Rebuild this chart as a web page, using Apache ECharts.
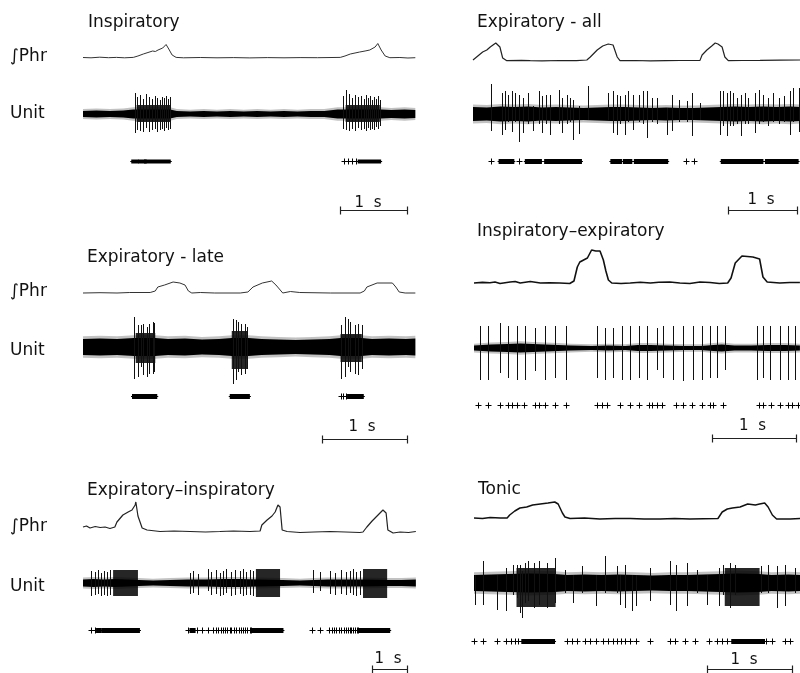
<!DOCTYPE html>
<html>
<head>
<meta charset="utf-8">
<script src="https://cdn.jsdelivr.net/npm/echarts@6/dist/echarts.min.js"></script>
<style>
  html, body { margin: 0; padding: 0; background: #fff; }
  #chart { width: 800px; height: 673px; }
</style>
</head>
<body>
<div id="chart"></div>
<script>
// ---- Recordings: time in s, ∫Phr in a.u., unit amplitude in µV-like units ----
// Each panel: phrenic integral [t, v], noise half-width [t, h],
// single spikes [t, up, down], dense firing [t0, t1, up, down], raster [t] or [t0, t1].

const scaleBarSeconds = 1;

// Inspiratory
const inspPhr = [[0,0.5],[0.12,0.2],[0.25,0.8],[0.38,0.3],[0.5,0.6],[0.62,0.2],[0.75,0.6],[0.82,2],[0.90,4],[0.97,5.5],[1.04,7],[1.08,6.5],[1.12,8],[1.19,10],[1.24,13.5],[1.28,9],[1.33,3],[1.39,0.6],[1.5,0.2],[1.75,0.5],[2.0,0.2],[2.25,0.4],[2.49,0.1],[2.75,0.4],[3.0,0.2],[3.24,0.4],[3.5,0.3],[3.84,0.6],[3.91,2],[3.99,4],[4.06,5],[4.13,6],[4.21,7],[4.28,8],[4.36,11],[4.40,14.5],[4.45,8],[4.51,2],[4.58,0.3],[4.73,0.5],[4.85,0],[4.96,0.3]];
const inspBand = [[0,3],[0.2,3.5],[0.4,3],[0.6,3.5],[0.75,4.5],[1.3,4.5],[1.4,3],[1.6,2.5],[1.8,3],[2.0,2.5],[2.2,3],[2.4,2.5],[2.6,3],[2.8,2.5],[3.0,3],[3.2,2.5],[3.4,3],[3.6,3],[3.8,4.5],[4.45,4.5],[4.6,4],[4.8,4.5],[4.96,4]];
const inspSpikes = [[0.78,21,19],[0.81,17,16],[0.85,19,17],[0.90,15,18],[0.94,20,14],[0.99,17,18],[1.03,15,16],[1.07,18,15],[1.10,16,18],[1.15,14,16],[1.18,17,15],[1.21,16,17],[1.24,18,14],[1.27,15,16],[1.30,17,15],
  [3.88,18,15],[3.93,24,16],[3.97,20,17],[4.01,16,15],[4.06,19,17],[4.10,17,14],[4.15,18,16],[4.19,15,15],[4.22,19,17],[4.25,16,14],[4.28,18,16],[4.31,14,15],[4.34,17,16],[4.37,15,13],[4.40,18,15],[4.43,14,12]];
const inspBursts = [[0.80,1.30,9,8],[3.92,4.43,9,8]];
const inspRaster = [[0.75,0.80],[0.85,0.92],[0.94,1.28],[3.90],[3.96],[4.02],[4.08],[4.13,4.42]];

// Expiratory - all
const expAllPhr = [[0,1],[0.07,5],[0.14,9],[0.2,11],[0.25,14],[0.33,18],[0.39,14],[0.43,3],[0.49,0.3],[0.7,0.6],[0.83,0.4],[1.0,0.2],[1.26,0.5],[1.5,0.4],[1.65,1],[1.70,4],[1.80,11],[1.88,15],[1.96,17],[2.03,16],[2.09,4],[2.13,0.3],[2.35,0.5],[2.57,0.2],[2.8,0.4],[3.0,0.5],[3.29,0.6],[3.32,6],[3.39,11],[3.46,15],[3.51,18],[3.55,17],[3.61,14],[3.65,4],[3.70,0.3],[3.9,0.5],[4.16,0.6],[4.45,0.8],[4.74,1]];
const expAllBand = [[0,7],[0.2,6.5],[0.4,7.5],[0.6,7],[0.8,7.5],[1.0,6.5],[1.2,7],[1.4,6.5],[1.6,6],[1.8,6.5],[2.0,7],[2.2,7],[2.4,6.5],[2.6,6],[2.8,6.5],[3.0,6],[3.2,6],[3.4,6.5],[3.6,7],[3.8,7.5],[4.0,7],[4.2,7.5],[4.4,7],[4.6,7.5],[4.74,7]];
const expAllSpikes = [[0.26,30,17],[0.42,21,21],[0.46,23,16],[0.50,19,8],[0.56,23,18],[0.61,21,8],[0.66,19,28],[0.73,16,19],[0.79,21,10],[0.87,8,17],[0.95,23,10],[1.00,18,19],[1.06,19,10],[1.12,19,21],[1.24,24,10],[1.29,16,19],[1.36,19,10],[1.41,16,8],[1.45,14,26],[1.53,8,20],[1.67,28,6],
  [1.96,21,6],[2.03,23,19],[2.08,19,21],[2.13,18,10],[2.20,19,21],[2.25,23,8],[2.32,19,16],[2.40,19,8],[2.47,23,10],[2.52,23,24],[2.59,16,8],[2.66,16,10],[2.81,6,21],[2.88,19,17],[2.98,14,8],[3.10,13,8],[3.17,21,22],[3.29,11,6],
  [3.58,23,21],[3.63,23,12],[3.68,21,22],[3.73,23,12],[3.77,21,12],[3.82,16,10],[3.88,19,22],[3.94,21,10],[3.99,16,10],[4.09,21,19],[4.14,24,10],[4.20,19,8],[4.28,16,12],[4.35,21,8],[4.43,16,10],[4.50,18,8],[4.59,23,21],[4.64,26,8],[4.72,26,18]];
const expAllBursts = [];
const expAllRaster = [[0.26],[0.40,0.57],[0.67],[0.78,0.97],[1.06,1.55],[2.02,2.13],[2.20,2.28],[2.36,2.80],[3.09],[3.20],[3.62,3.68],[3.72,4.18],[4.26,4.55],[4.59,4.69]];

// Expiratory - late
const expLatePhr = [[0,0],[0.2,0.3],[0.4,0],[0.55,0.5],[0.79,0.5],[0.85,2],[0.88,6],[0.96,8],[1.06,11],[1.14,10],[1.20,8],[1.24,2],[1.28,0],[1.38,0.5],[1.55,0],[1.85,0],[1.94,1],[2.00,6],[2.11,10],[2.22,12],[2.27,8],[2.31,4],[2.35,0],[2.44,1.5],[2.55,0.5],[2.91,0],[3.26,0],[3.31,2],[3.34,6],[3.46,10],[3.64,10],[3.68,6],[3.72,1],[3.79,0],[3.91,0]];
const expLateBand = [[0,8],[0.2,8.5],[0.4,8],[0.6,9],[0.85,9],[1.0,8],[1.2,8.5],[1.4,7.5],[1.6,8],[1.75,9],[1.95,9],[2.1,8],[2.3,7.5],[2.5,7],[2.7,7.5],[2.9,8],[3.03,9],[3.28,9],[3.4,8],[3.6,8.5],[3.8,8],[3.91,8.5]];
const expLateSpikes = [[0.60,30,32],[0.65,22,30],[0.68,22,20],[0.71,23,28],[0.75,20,30],[0.78,23,27],[0.82,25,27],[0.84,24,25],
  [1.77,28,37],[1.80,27,33],[1.82,25,25],[1.86,23,28],[1.90,23,27],[1.93,20,22],
  [3.04,22,32],[3.08,30,30],[3.12,28,20],[3.14,25,25],[3.20,22,27],[3.24,23,28],[3.28,22,22]];
const expLateBursts = [[0.62,0.85,14,16],[1.75,1.94,16,22],[3.03,3.28,13,15]];
const expLateRaster = [[0.60,0.85],[1.75,1.94],[3.03],[3.06],[3.09],[3.13,3.28]];

// Inspiratory–expiratory
const inspExpPhr = [[0,0],[0.1,0.6],[0.19,0.2],[0.25,1],[0.31,-0.5],[0.43,1],[0.49,1.5],[0.55,0],[0.67,1.5],[0.79,0],[0.9,0.3],[1.02,0],[1.14,-0.5],[1.19,2],[1.23,16],[1.26,21],[1.35,25],[1.40,33],[1.45,32],[1.50,32],[1.54,23],[1.57,12],[1.60,3],[1.64,0],[1.75,-0.5],[1.86,0],[1.98,0.8],[2.10,0],[2.2,0.8],[2.33,1],[2.45,0],[2.57,-0.5],[2.69,1],[2.81,0.5],[2.92,-0.5],[3.02,0],[3.06,5],[3.11,20],[3.19,27],[3.32,26],[3.40,24],[3.44,6],[3.49,1],[3.64,0],[3.76,0.5],[3.88,0.5]];
const inspExpBand = [[0,2.5],[0.2,3.5],[0.4,4],[0.55,4.5],[0.7,4],[0.85,3.5],[1.0,3],[1.15,2.5],[1.4,2],[1.6,2.5],[1.8,2],[1.95,3],[2.1,3],[2.3,2.5],[2.5,2],[2.7,2],[2.85,3],[2.95,3.5],[3.1,2.5],[3.3,2.5],[3.5,3],[3.7,3],[3.88,2.5]];
const inspExpSpikes = [[0.07,22,32],[0.17,22,32],[0.31,25,25],[0.41,22,30],[0.51,22,32],[0.61,22,32],[0.73,20,23],[0.85,22,32],[0.96,22,30],[1.10,22,32],[1.46,22,30],[1.56,20,32],[1.66,20,30],[1.76,22,32],[1.86,22,32],[1.96,22,30],[2.06,22,32],[2.18,20,22],[2.25,22,30],[2.37,22,32],[2.49,22,33],[2.61,22,32],[2.71,22,32],[2.81,22,30],[2.89,22,30],[2.99,22,22],[3.37,22,32],[3.44,22,30],[3.52,22,32],[3.64,22,32],[3.74,22,32],[3.82,22,32]];
const inspExpBursts = [];
const inspExpRaster = [[0.05],[0.17],[0.31],[0.41],[0.45],[0.51],[0.59],[0.73],[0.77],[0.85],[0.96],[1.10],[1.46],[1.52],[1.58],[1.74],[1.86],[1.96],[2.08],[2.12],[2.18],[2.24],[2.41],[2.49],[2.59],[2.71],[2.81],[2.85],[2.97],[3.39],[3.44],[3.54],[3.64],[3.74],[3.78],[3.86]];

// Expiratory–inspiratory
const expInspPhr = [[0,6],[0.1,7],[0.2,5],[0.35,6.5],[0.49,5.5],[0.63,6],[0.77,4.5],[0.91,6],[0.97,11],[1.14,18],[1.29,21],[1.40,23],[1.49,28],[1.51,31],[1.57,17],[1.69,5],[1.83,3],[2.2,1.5],[2.6,2],[3.06,1.5],[3.5,1],[3.91,1.5],[4.3,2],[4.77,1.5],[5.06,2],[5.11,8],[5.26,13],[5.40,17],[5.49,21],[5.57,28],[5.63,26],[5.69,3],[5.83,1.5],[6.2,0.5],[6.6,1],[7.06,1.5],[7.5,1],[7.91,0.5],[8.0,1],[8.11,6],[8.26,12],[8.43,18],[8.57,23],[8.66,20],[8.71,3],[8.86,0],[9.06,1],[9.3,0.5],[9.51,1.5]];
const expInspBand = [[0,3.5],[0.3,4],[0.6,3.5],[0.9,4],[1.6,3],[2.0,2.5],[2.5,3],[3.0,3.5],[3.5,3.5],[4.0,4],[4.5,4],[5.0,3.5],[5.7,3],[6.2,2.5],[6.6,3],[7.0,3.5],[7.5,3.5],[8.0,3.5],[8.7,3],[9.1,3],[9.51,3.5]];
const expInspSpikes = [[0.24,12,13],[0.33,11,12],[0.43,13,11],[0.52,10,13],[0.59,12,12],[0.69,11,13],[0.76,13,12],
  [3.05,10,11],[3.14,12,10],[3.29,9,12],[3.57,14,8],[3.67,11,12],[3.81,13,11],[3.91,10,13],[4.00,12,12],[4.09,14,10],[4.24,11,13],[4.33,13,12],[4.48,12,11],[4.57,14,13],[4.67,11,12],[4.76,13,12],[4.86,12,13],
  [6.57,13,10],[6.76,11,8],[7.05,12,11],[7.19,10,12],[7.38,13,11],[7.52,11,12],[7.62,12,10],[7.71,14,12],[7.81,11,13],[7.91,12,12]];
const expInspBursts = [[0.86,1.57,13,13],[4.94,5.63,14,14],[8.00,8.69,14,15]];
const expInspRaster = [[0.24],[0.33],[0.43,0.48],[0.59,0.67],[0.76,1.57],[3.00],[3.10,3.16],[3.26],[3.40],[3.57],[3.71],[3.79],[3.86],[3.94],[4.00],[4.05],[4.12],[4.19],[4.24],[4.31],[4.38],[4.45],[4.52],[4.57],[4.62],[4.69],[4.76],[4.81],[4.86,5.67],
  [6.55],[6.78],[7.03],[7.10],[7.17],[7.24],[7.31],[7.38],[7.45],[7.52],[7.57],[7.62],[7.67],[7.72],[7.77],[7.82],[7.87],[7.91,8.72]];

// Tonic
const tonicPhr = [[0,1],[0.1,0.5],[0.19,1.5],[0.31,1],[0.39,1],[0.42,4],[0.48,8],[0.54,11],[0.62,12],[0.69,14],[0.78,15],[0.87,16],[0.95,17],[0.99,15],[1.04,6],[1.07,2],[1.13,0.5],[1.3,1],[1.48,0],[1.66,0.5],[1.84,0.5],[2.0,0],[2.19,0],[2.36,0.5],[2.54,0],[2.7,0.3],[2.87,0.5],[2.92,7],[2.98,10],[3.04,11],[3.13,12],[3.22,15],[3.31,14],[3.36,15],[3.42,16],[3.46,12],[3.51,4],[3.56,0],[3.72,0],[3.84,0.5]];
const tonicBand = [[0,8],[0.2,8.5],[0.4,9],[0.65,9.5],[0.95,9],[1.1,8],[1.3,8.5],[1.5,8],[1.7,8.5],[1.9,8],[2.1,7.5],[2.3,8],[2.5,8],[2.7,8.5],[2.9,9],[3.1,9.5],[3.35,9],[3.5,8],[3.7,8.5],[3.84,8]];
const tonicSpikes = [[0.01,8,22],[0.11,22,22],[0.27,8,27],[0.38,15,28],[0.46,18,12],[0.50,18,15],[0.54,18,30],[0.56,12,35],[0.60,20,20],[0.64,22,18],[0.70,20,25],[0.76,22,22],[0.86,20,25],[0.95,25,20],[1.07,13,10],[1.17,8,20],[1.27,17,10],[1.44,8,23],[1.54,27,10],[1.68,17,10],[1.72,8,22],[1.78,18,25],[1.86,8,28],[1.91,8,23],[2.07,15,18],[2.31,22,22],[2.38,18,28],[2.50,20,23],[2.62,13,10],[2.74,8,22],[2.88,15,23],[2.93,18,12],[3.01,20,25],[3.07,18,12],[3.38,17,10],[3.46,18,10],[3.56,17,25],[3.66,18,23],[3.78,15,10]];
const tonicBursts = [[0.50,0.96,15,24],[2.95,3.36,15,23]];
const tonicRaster = [[0.00],[0.11],[0.27],[0.38],[0.44],[0.48],[0.52],[0.58,0.93],[1.09],[1.15],[1.21],[1.30],[1.37],[1.44],[1.52],[1.58],[1.63],[1.68],[1.73],[1.78],[1.84],[1.90],[2.07],[2.31],[2.37],[2.48],[2.60],[2.76],[2.86],[2.92],[2.98],[3.05,3.40],[3.44],[3.50],[3.66],[3.72]];

// ---- Layout of the six panels (pixel placement and styling) ----
const FONT = '"DejaVu Sans", "Liberation Sans", Arial, sans-serif';
const panels = [
  { title: 'Inspiratory', tx: 88, ty: 23, rowLabels: [57, 113.5],
    x0: 83, width: 332, pps: 67, phrY: 58, unitY: 114, rasterY: 161, barY: 210, barT0: 3.836, barLabelDy: -7, barLabelDx: -6,
    phrColor: '#333', phrWidth: 1, rasterH: 4,
    phr: inspPhr, band: inspBand, spikes: inspSpikes, bursts: inspBursts, raster: inspRaster },
  { title: 'Expiratory - all', tx: 477, ty: 23, rowLabels: null,
    x0: 473, width: 327, pps: 69, phrY: 61, unitY: 114, rasterY: 161, barY: 210, barT0: 3.696, barLabelDy: -10, barLabelDx: -2,
    phrColor: '#222', phrWidth: 1.2, rasterH: 5,
    phr: expAllPhr, band: expAllBand, spikes: expAllSpikes, bursts: expAllBursts, raster: expAllRaster },
  { title: 'Expiratory - late', tx: 87, ty: 258, rowLabels: [291.7, 350.5],
    x0: 83, width: 332, pps: 85, phrY: 293, unitY: 347, rasterY: 396, barY: 439, barT0: 2.812, barLabelDy: -12, barLabelDx: -3,
    phrColor: '#333', phrWidth: 1, rasterH: 5,
    phr: expLatePhr, band: expLateBand, spikes: expLateSpikes, bursts: expLateBursts, raster: expLateRaster },
  { title: 'Inspiratory\u2013expiratory', tx: 477, ty: 232, rowLabels: null,
    x0: 474, width: 326, pps: 84, phrY: 283, unitY: 348, rasterY: 405, barY: 438, barT0: 2.833, barLabelDy: -12, barLabelDx: -2,
    phrColor: '#111', phrWidth: 1.6, rasterH: 4,
    phr: inspExpPhr, band: inspExpBand, spikes: inspExpSpikes, bursts: inspExpBursts, raster: inspExpRaster },
  { title: 'Expiratory\u2013inspiratory', tx: 87, ty: 491, rowLabels: [527, 587],
    x0: 83, width: 333, pps: 35, phrY: 533, unitY: 583, rasterY: 630, barY: 669, barT0: 8.257, barLabelDy: -10, barLabelDx: -2,
    phrColor: '#222', phrWidth: 1.2, rasterH: 5,
    phr: expInspPhr, band: expInspBand, spikes: expInspSpikes, bursts: expInspBursts, raster: expInspRaster },
  { title: 'Tonic', tx: 478, ty: 489.5, rowLabels: null,
    x0: 474, width: 326, pps: 85, phrY: 519, unitY: 583, rasterY: 641, barY: 669, barT0: 2.741, barLabelDy: -9, barLabelDx: -6,
    phrColor: '#111', phrWidth: 1.5, rasterH: 5,
    phr: tonicPhr, band: tonicBand, spikes: tonicSpikes, bursts: tonicBursts, raster: tonicRaster }
];

const grids = [], xAxes = [], yAxes = [], series = [], graphics = [];

panels.forEach(p => {
  const tMax = p.width / p.pps;
  const gap = p.barY - p.rasterY;
  // three stacked rows share the panel's time axis; y is 1 unit per pixel
  const rows = [
    { top: p.phrY - 40, height: 50, min: -10, max: 40 },
    { top: p.unitY - 45, height: 90, min: -45, max: 45 },
    { top: p.rasterY - 10, height: gap + 12, min: -(gap + 2), max: 10 }
  ];
  const base = grids.length;
  rows.forEach(r => {
    const gi = grids.length;
    grids.push({ left: p.x0, width: p.width, top: r.top, height: r.height, containLabel: false });
    xAxes.push({ type: 'value', gridIndex: gi, min: 0, max: tMax, show: false });
    yAxes.push({ type: 'value', gridIndex: gi, min: r.min, max: r.max, show: false });
  });

  // ∫Phr trace
  series.push({
    type: 'line', xAxisIndex: base, yAxisIndex: base, data: p.phr,
    symbol: 'none', showSymbol: false, silent: true, clip: false,
    lineStyle: { color: p.phrColor, width: p.phrWidth }
  });

  // unit recording: noise band with a soft grey fringe
  series.push({
    type: 'custom', xAxisIndex: base + 1, yAxisIndex: base + 1, data: [[0, 0]], silent: true, clip: false,
    renderItem: (params, api) => {
      const poly = (k, extra) => {
        const up = p.band.map(([t, h]) => api.coord([t, h * k + extra]));
        const dn = p.band.slice().reverse().map(([t, h]) => api.coord([t, -h * k - extra]));
        return up.concat(dn);
      };
      return { type: 'group', children: [
        { type: 'polygon', shape: { points: poly(1.15, 1.5) }, style: { fill: '#777', opacity: 0.45 } },
        { type: 'polygon', shape: { points: poly(1, 0) }, style: { fill: '#000' } }
      ] };
    }
  });

  // unit recording: dense firing
  series.push({
    type: 'custom', xAxisIndex: base + 1, yAxisIndex: base + 1, data: p.bursts, silent: true, clip: false,
    renderItem: (params, api) => {
      const a = api.coord([api.value(0), api.value(2)]);
      const b = api.coord([api.value(1), -api.value(3)]);
      return { type: 'rect', shape: { x: a[0], y: a[1], width: b[0] - a[0], height: b[1] - a[1] },
               style: { fill: '#000', opacity: 0.85 } };
    }
  });

  // unit recording: individual spikes
  series.push({
    type: 'custom', xAxisIndex: base + 1, yAxisIndex: base + 1, data: p.spikes, silent: true, clip: false,
    renderItem: (params, api) => {
      const a = api.coord([api.value(0), api.value(1)]);
      const b = api.coord([api.value(0), -api.value(2)]);
      const x = Math.round(a[0]) + 0.5;
      return { type: 'line', shape: { x1: x, y1: a[1], x2: x, y2: b[1] },
               style: { stroke: '#111', lineWidth: 1 } };
    }
  });

  // spike raster
  series.push({
    type: 'custom', xAxisIndex: base + 2, yAxisIndex: base + 2, silent: true, clip: false,
    data: p.raster.map(r => [r[0], r.length > 1 ? r[1] : r[0]]),
    renderItem: (params, api) => {
      const a = api.coord([api.value(0), 0]);
      const b = api.coord([api.value(1), 0]);
      const y = Math.round(a[1]) + 0.5;
      if (b[0] - a[0] > 0.5) {
        return { type: 'group', children: [
          { type: 'rect', shape: { x: a[0] - 2, y: y - p.rasterH / 2, width: b[0] - a[0] + 4, height: p.rasterH }, style: { fill: '#000' } },
          { type: 'line', shape: { x1: a[0] - 3, y1: y, x2: b[0] + 3, y2: y }, style: { stroke: '#000', lineWidth: 1 } }
        ] };
      }
      const x = Math.round(a[0]) + 0.5;
      return { type: 'group', children: [
        { type: 'line', shape: { x1: x, y1: y - 3, x2: x, y2: y + 3 }, style: { stroke: '#000', lineWidth: 1 } },
        { type: 'line', shape: { x1: x - 3, y1: y, x2: x + 3, y2: y }, style: { stroke: '#000', lineWidth: 1 } }
      ] };
    }
  });

  // time scale bar
  series.push({
    type: 'custom', xAxisIndex: base + 2, yAxisIndex: base + 2, silent: true, clip: false,
    data: [[p.barT0, -gap]],
    renderItem: (params, api) => {
      const a = api.coord([api.value(0), api.value(1)]);
      const b = api.coord([api.value(0) + scaleBarSeconds, api.value(1)]);
      const y = Math.round(a[1]) + 0.5;
      const xa = Math.round(a[0]) + 0.5, xb = Math.round(b[0]) + 0.5;
      return { type: 'group', children: [
        { type: 'line', shape: { x1: xa, y1: y, x2: xb, y2: y }, style: { stroke: '#222', lineWidth: 1 } },
        { type: 'line', shape: { x1: xa, y1: y - 4, x2: xa, y2: y + 4 }, style: { stroke: '#222', lineWidth: 1.2 } },
        { type: 'line', shape: { x1: xb, y1: y - 4, x2: xb, y2: y + 4 }, style: { stroke: '#222', lineWidth: 1.2 } },
        { type: 'text', style: { text: scaleBarSeconds + '  s', x: (xa + xb) / 2 + p.barLabelDx, y: y + p.barLabelDy,
            align: 'center', verticalAlign: 'middle', font: '15px ' + FONT, fill: '#111' } }
      ] };
    }
  });

  // panel title and row labels
  graphics.push({ type: 'text', x: p.tx, y: p.ty, silent: true,
    style: { text: p.title, font: '17px ' + FONT, fill: '#111', align: 'left', verticalAlign: 'middle' } });
  if (p.rowLabels) {
    graphics.push({ type: 'text', x: 10, y: p.rowLabels[0], silent: true,
      style: { text: '\u222BPhr', font: '17px ' + FONT, fill: '#111', align: 'left', verticalAlign: 'middle' } });
    graphics.push({ type: 'text', x: 10, y: p.rowLabels[1], silent: true,
      style: { text: 'Unit', font: '17px ' + FONT, fill: '#111', align: 'left', verticalAlign: 'middle' } });
  }
});

const chart = echarts.init(document.getElementById('chart'), null, { renderer: 'canvas' });
chart.setOption({
  animation: false,
  backgroundColor: '#fff',
  grid: grids,
  xAxis: xAxes,
  yAxis: yAxes,
  series: series,
  graphic: graphics
});
</script>
</body>
</html>
